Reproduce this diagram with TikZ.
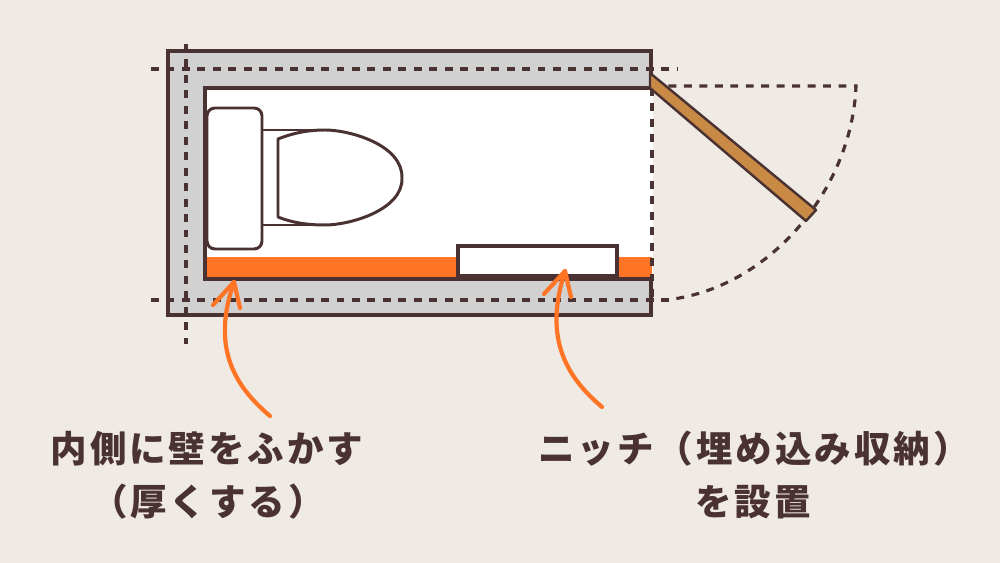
\documentclass[tikz,border=0pt]{standalone}
\usepackage{fontspec}
\usetikzlibrary{calc}
\newfontfamily\labelfont[LetterSpace=8]{Noto Sans CJK JP}
\definecolor{bgcol}{HTML}{EFEAE4}
\definecolor{linecol}{HTML}{4A3232}
\definecolor{wallcol}{HTML}{D1D1D2}
\definecolor{accentcol}{HTML}{FF7425}
\definecolor{doorcol}{HTML}{C98A45}
\tikzset{
    wall/.style={draw=linecol,line width=1.8pt},
    dashline/.style={draw=linecol,line width=1.8pt,dash pattern=on 4.5pt off 4.3pt},
    bowl/.style={draw=linecol,line width=1.7pt,fill=white,line join=round},
    curvearrow/.style={draw=accentcol,line width=2.4pt,line cap=round,line join=round},
    caption/.style={text=linecol,font=\labelfont\bfseries\fontsize{20.8}{24}\selectfont,inner sep=0pt},
}
\begin{document}
\begin{tikzpicture}[x=0.02cm,y=-0.02cm]
    \fill [bgcol] (0,0) rectangle (1000,563);
    \useasboundingbox (0,0) rectangle (1000,563);

    % walls and room
    \draw [wall,fill=wallcol] (168,51) rectangle (651,315);
    \fill [white] (205,88) rectangle (653,279);
    \fill [accentcol] (206,257) rectangle (652,278);
    \draw [wall] (651,88) -- (205,88) -- (205,279) -- (651,279);
    \draw [draw=linecol,line width=2.1pt,fill=white] (458,246) rectangle (617,276);

    % toilet
    \draw [bowl] (262,130) -- (325,130) -- (325,225) -- (262,225);
    \draw [bowl,rounded corners=4.5pt] (207,108) -- (262,108) -- (262,249) -- (207,249) -- cycle;
    \draw [bowl] (278,139) .. controls (293,133) and (308,130) .. (325,130)
        .. controls (350,130) and (403,145) .. (402,178)
        .. controls (403,210) and (350,225) .. (325,225)
        .. controls (308,225) and (293,223) .. (278,217) -- cycle;

    % center lines
    \draw [dashline] (151,69) -- (678,69);
    \draw [dashline] (151,300) -- (670,300);
    \draw [dashline] (186,44) -- (186,344);
    \draw [dashline] (652,88) -- (652,300);

    % door
    \draw [dashline] (653,86) -- (856,86) .. controls (852,190) and (768,290) .. (665,300);
    \draw [wall,line width=1.4pt,fill=doorcol,line join=round] (650,73) -- (816,210) -- (806,221) -- (650,88) -- cycle;

    % arrows
    \coordinate (tailwall) at (270,416);
    \coordinate (tipwall) at (234,282);
    \coordinate (tailniche) at (602,407);
    \coordinate (tipniche) at (565,271);
    \draw [curvearrow] (tailwall) .. controls (232,384) and (212,345) .. (tipwall);
    \draw [curvearrow] ($(tipwall)+(-21,23)$) -- (tipwall) -- ($(tipwall)+(6,26)$);
    \draw [curvearrow] (tailniche) .. controls (564,375) and (544,336) .. (tipniche);
    \draw [curvearrow] ($(tipniche)+(-21,23)$) -- (tipniche) -- ($(tipniche)+(6,26)$);

    % captions
    \node at (207,449) [caption] (wallone) {内側に壁をふかす};
    \node at (208,502) [caption] (walltwo) {（厚くする）};
    \node at (754,449) [caption] (nicheone) {ニッチ（埋め込み収納）};
    \node at (753,502) [caption] (nichetwo) {を設置};
\end{tikzpicture}
\end{document}
